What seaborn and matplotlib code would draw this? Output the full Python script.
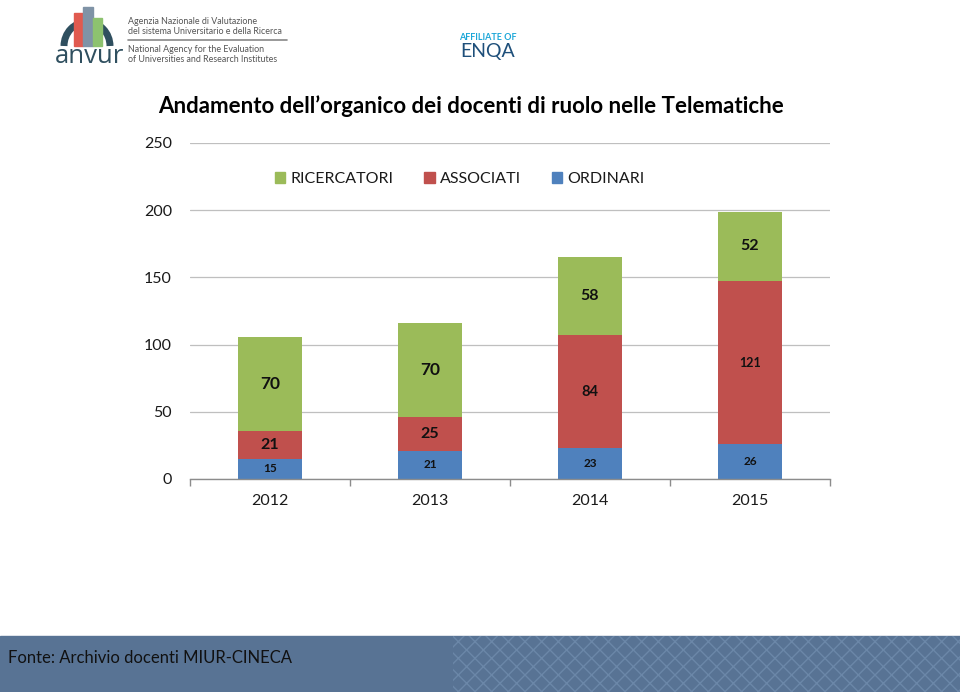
import matplotlib
matplotlib.use("Agg")
import matplotlib.pyplot as plt
import matplotlib.patches as mpatches
from matplotlib.ticker import FixedLocator
import seaborn as sns
import pandas as pd
import numpy as np

years = ["2012", "2013", "2014", "2015"]
ordinari = [15, 21, 23, 26]
associati = [21, 25, 84, 121]
ricercatori = [70, 70, 58, 52]
series_names = ["RICERCATORI", "ASSOCIATI", "ORDINARI"]
y_ticks = [0, 50, 100, 150, 200, 250]

title = "Andamento dell\u2019organico dei docenti di ruolo nelle Telematiche"
source = "Fonte: Archivio docenti MIUR-CINECA"

GREEN, RED, BLUE = "#9BBB59", "#C0504D", "#4F81BD"

sns.set_theme(style="white")
plt.rcParams["font.family"] = ["Lato", "DejaVu Sans"]

df = pd.DataFrame({"year": years, "ORDINARI": ordinari,
                   "ASSOCIATI": associati, "RICERCATORI": ricercatori})
df["cum_ord"] = df["ORDINARI"]
df["cum_ass"] = df["ORDINARI"] + df["ASSOCIATI"]
df["cum_tot"] = df["cum_ass"] + df["RICERCATORI"]

fig = plt.figure(figsize=(9.6, 6.92), dpi=100)
ax = fig.add_axes([190/960, 1-479/692, 640/960, 336/692])

sns.barplot(data=df, x="year", y="cum_tot", color=GREEN, width=0.4, saturation=1, ax=ax, zorder=2)
sns.barplot(data=df, x="year", y="cum_ass", color=RED, width=0.4, saturation=1, ax=ax, zorder=2)
sns.barplot(data=df, x="year", y="cum_ord", color=BLUE, width=0.4, saturation=1, ax=ax, zorder=2)
for p in ax.patches:
    p.set_edgecolor("none")

ax.set_xlim(-0.5, 3.5)
ax.set_ylim(0, 250)
ax.set_yticks(y_ticks)
ax.set_xlabel("")
ax.set_ylabel("")
ax.grid(axis="y", color="#BFBFBF", linewidth=0.9, zorder=0)
ax.set_axisbelow(True)
for s in ["left", "right", "top"]:
    ax.spines[s].set_visible(False)
ax.spines["bottom"].set_color("#8C8C8C")
ax.spines["bottom"].set_linewidth(1.0)
ax.xaxis.set_minor_locator(FixedLocator(np.arange(-0.5, 4, 1.0)))
ax.tick_params(axis="x", which="minor", length=5, color="#8C8C8C", width=1, bottom=True)
ax.tick_params(axis="x", which="major", length=0, labelsize=11.5, labelcolor="#1a1a1a", pad=11)
ax.tick_params(axis="y", length=0, labelsize=11.5, labelcolor="#1a1a1a", pad=13)

# data labels
for i in range(len(years)):
    o, a, r = ordinari[i], associati[i], ricercatori[i]
    ax.text(i, o/2, str(o), ha="center", va="center", fontsize=8.5, fontweight="bold", color="#111111")
    fs_a = 11.5 if a < 50 else (10.5 if a < 100 else 9)
    ax.text(i, o + a/2, str(a), ha="center", va="center", fontsize=fs_a, fontweight="bold", color="#111111")
    fs_r = 12.5 if r >= 70 else 11.5
    ax.text(i, o + a + r/2, str(r), ha="center", va="center", fontsize=fs_r, fontweight="bold", color="#111111")

# legend
handles = [mpatches.Patch(color=c, label=n) for c, n in zip([GREEN, RED, BLUE], series_names)]
leg = ax.legend(handles=handles, loc="center", bbox_to_anchor=(460/960, 1-179/692),
                bbox_transform=fig.transFigure, ncol=3, frameon=False, fontsize=11.5,
                handlelength=0.65, handleheight=0.65, handletextpad=0.35, columnspacing=1.9)
for t in leg.get_texts():
    t.set_color("#1a1a1a")

# title
fig.text(471/960, 1-106/692, title, ha="center", va="center", fontsize=16,
         fontweight="bold", color="#000000")

# header logos (approximation)
arc = mpatches.Arc((87/960, 1-46/692), 46/960, 48/692, theta1=0, theta2=180,
                   transform=fig.transFigure, color="#2F4F5F", linewidth=5, zorder=1)
fig.patches.append(arc)
bars_logo = [(74, 9, 13, "#E05A4F"), (83, 10, 7, "#7F93A6"), (93, 9, 18, "#8DC26F")]
for x0, w, top, c in bars_logo:
    fig.patches.append(mpatches.Rectangle((x0/960, 1-46/692), w/960, (46-top)/692,
                                          transform=fig.transFigure, color=c, zorder=2))
fig.text(55/960, 1-63/692, "anvur", fontsize=18.5, color="#2F4F5F", va="baseline", ha="left",
         family=["Open Sans", "DejaVu Sans"])
fig.text(128/960, 1-22/692, "Agenzia Nazionale di Valutazione", fontsize=6.4, color="#555555", va="center")
fig.text(128/960, 1-32/692, "del sistema Universitario e della Ricerca", fontsize=6.4, color="#555555", va="center")
fig.add_artist(plt.Line2D([128/960, 287/960], [1-40/692, 1-40/692], color="#888888", linewidth=1.2))
fig.text(128/960, 1-49/692, "National Agency for the Evaluation", fontsize=6.4, color="#555555", va="center")
fig.text(128/960, 1-59/692, "of Universities and Research Institutes", fontsize=6.4, color="#555555", va="center")
fig.text(488/960, 1-37/692, "AFFILIATE OF", fontsize=6.5, fontweight="bold", color="#1BA6D8", ha="center", va="center")
fig.text(488/960, 1-52/692, "ENQA", fontsize=14, color="#1E4F7A", ha="center", va="center")

# bottom band
fig.patches.append(mpatches.Rectangle((0, 0), 1, 56/692, transform=fig.transFigure,
                                      color="#587394", zorder=0))
fig.patches.append(mpatches.Rectangle((453/960, 0), 507/960, 56/692, transform=fig.transFigure,
                                      facecolor="none", edgecolor="#6B87A8", hatch="xx",
                                      linewidth=0, zorder=0))
fig.text(8/960, 1-658/692, source, fontsize=12, color="#111111", va="center", ha="left")

fig.savefig("out.png", dpi=100)
